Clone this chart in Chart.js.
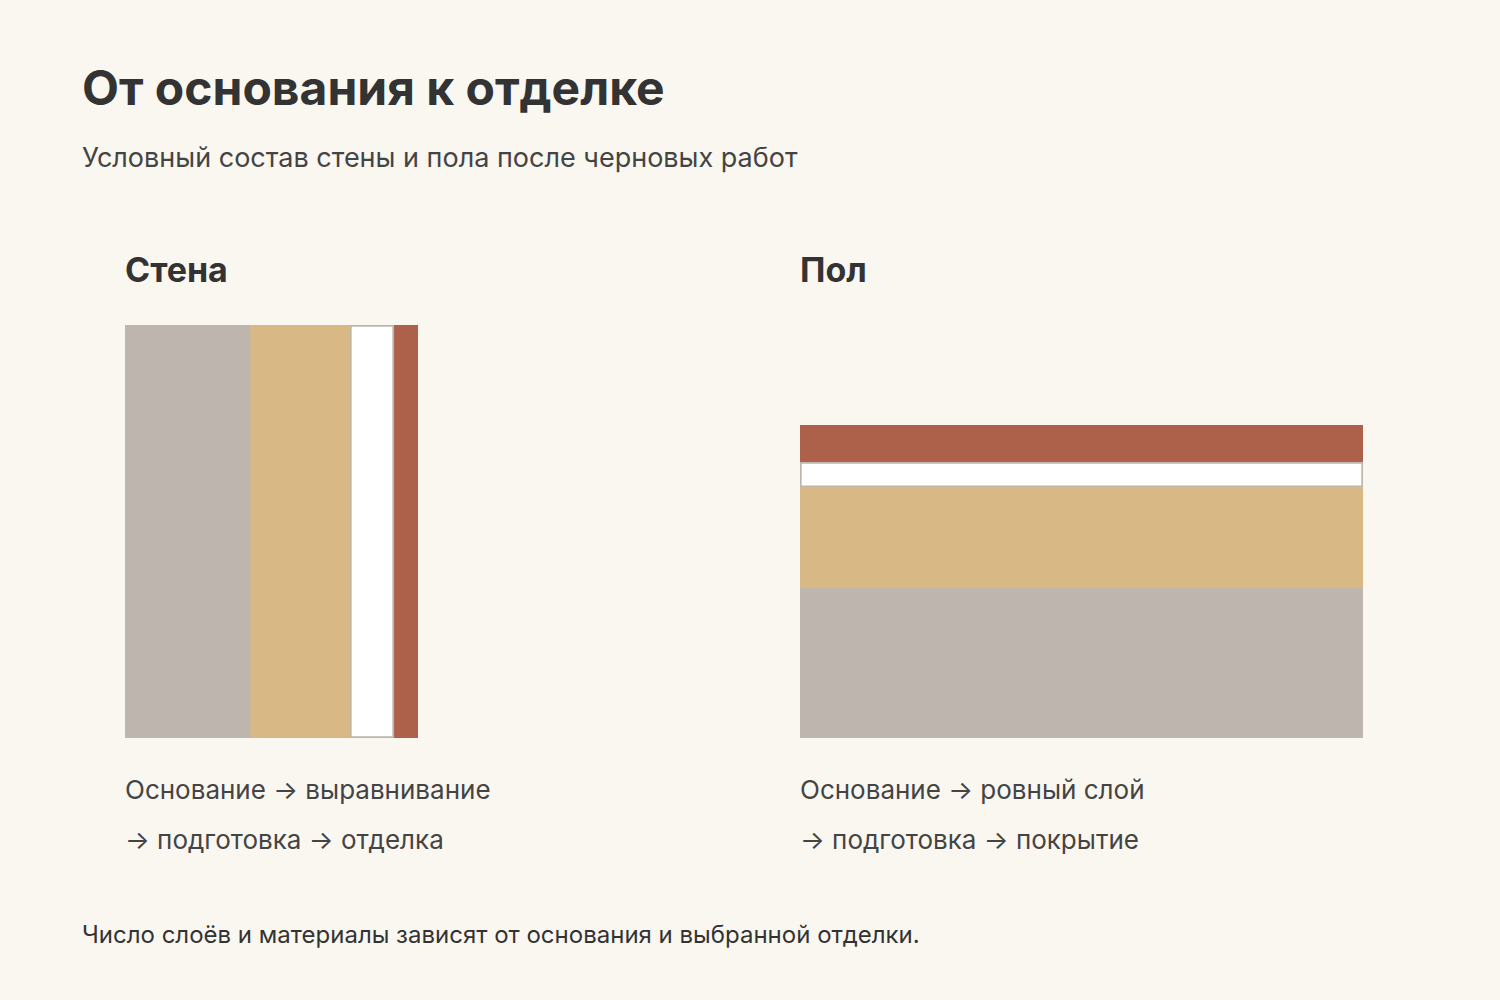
<!DOCTYPE html>
<html lang="ru">
<head>
<meta charset="utf-8">
<script src="https://cdn.jsdelivr.net/npm/chart.js"></script>
<style>
  body { margin: 0; width: 1500px; height: 1000px; background: #faf7f1; font-family: Inter, "Noto Sans", sans-serif; color: #333; position: relative; overflow: hidden; }
  .t { position: absolute; white-space: nowrap; }
  h1 { position: absolute; left: 82px; top: 58px; margin: 0; font-size: 48px; font-weight: 700; color: #333; }
  .box { position: absolute; }
</style>
</head>
<body>
<h1>От основания к отделке</h1>
<div class="t" style="left:82px;top:141px;font-size:27px;color:#444">Условный состав стены и пола после черновых работ</div>
<div class="t" style="left:125px;top:249px;font-size:34px;font-weight:700">Стена</div>
<div class="t" style="left:800px;top:249px;font-size:34px;font-weight:700">Пол</div>
<div class="box" style="left:125px;top:325px;width:293px;height:413px"><canvas id="wall"></canvas></div>
<div class="box" style="left:800px;top:425px;width:563px;height:313px"><canvas id="floor"></canvas></div>
<div class="t" style="left:125px;top:774px;font-size:26px;color:#444">Основание → выравнивание</div>
<div class="t" style="left:125px;top:824px;font-size:26px;color:#444">→ подготовка → отделка</div>
<div class="t" style="left:800px;top:774px;font-size:26px;color:#444">Основание → ровный слой</div>
<div class="t" style="left:800px;top:824px;font-size:26px;color:#444">→ подготовка → покрытие</div>
<div class="t" style="left:82px;top:920px;font-size:24px;color:#333">Число слоёв и материалы зависят от основания и выбранной отделки.</div>
<script>
// слои: основание, выравнивание, подготовка, отделка
const layers = ['Основание', 'Выравнивание', 'Подготовка', 'Отделка'];
const wallThickness = [125, 100, 44, 24];
const floorThickness = [150, 100, 25, 37];
const colors = ['#bdb5ae', '#d8b986', '#ffffff', '#ad604a'];

function makeChart(id, values, horizontal) {
  const total = values.reduce((a, b) => a + b, 0);
  const valueAxis = { stacked: true, display: false, min: 0, max: total };
  const catAxis = { stacked: true, display: false };
  new Chart(document.getElementById(id), {
    type: 'bar',
    data: {
      labels: [''],
      datasets: layers.map((l, i) => ({
        label: l,
        data: [values[i]],
        backgroundColor: colors[i],
        borderColor: i === 2 ? '#bdb5ae' : colors[i],
        borderWidth: i === 2 ? 2 : 0,
        borderSkipped: false,
        barPercentage: 1,
        categoryPercentage: 1
      }))
    },
    options: {
      indexAxis: horizontal ? 'y' : 'x',
      responsive: true,
      maintainAspectRatio: false,
      animation: false,
      layout: { padding: 0 },
      plugins: { legend: { display: false }, tooltip: { enabled: false } },
      scales: horizontal ? { x: valueAxis, y: catAxis } : { x: catAxis, y: valueAxis }
    }
  });
}

makeChart('wall', wallThickness, true);
makeChart('floor', floorThickness, false);
</script>
</body>
</html>
